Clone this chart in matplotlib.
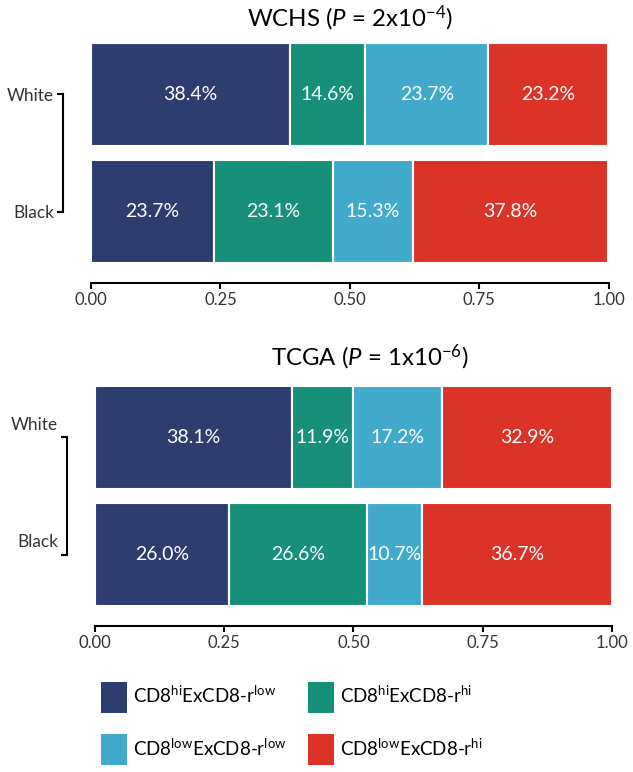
import matplotlib.pyplot as plt
from matplotlib.patches import Patch
from matplotlib.transforms import ScaledTranslation

plt.rcParams['font.family'] = ['Lato', 'DejaVu Sans']
plt.rcParams['mathtext.fontset'] = 'custom'
plt.rcParams['mathtext.rm'] = 'Lato'
plt.rcParams['mathtext.it'] = 'Lato:italic'

# data
groups = ['White', 'Black']
categories = [r'CD8$^{\mathrm{hi}}$ExCD8-r$^{\mathrm{low}}$',
              r'CD8$^{\mathrm{hi}}$ExCD8-r$^{\mathrm{hi}}$',
              r'CD8$^{\mathrm{low}}$ExCD8-r$^{\mathrm{low}}$',
              r'CD8$^{\mathrm{low}}$ExCD8-r$^{\mathrm{hi}}$']
colors = ['#2E3D70', '#17907A', '#41AACB', '#DB3328']

wchs_white = [38.4, 14.6, 23.7, 23.2]
wchs_black = [23.7, 23.1, 15.3, 37.8]
tcga_white = [38.1, 11.9, 17.2, 32.9]
tcga_black = [26.0, 26.6, 10.7, 36.7]

wchs_title = r'WCHS ($P$ = 2x10$^{\mathrm{-4}}$)'
tcga_title = r'TCGA ($P$ = 1x10$^{\mathrm{-6}}$)'
xticks = [0.0, 0.25, 0.5, 0.75, 1.0]


def draw_panel(ax, white, black, title, title_x, title_pad):
    ypos = [1, 0]
    for y, vals in zip(ypos, [white, black]):
        left = 0
        for v, c in zip(vals, colors):
            w = v / 100
            ax.barh(y, w, left=left, height=0.88, color=c,
                    edgecolor='white', linewidth=1.5)
            ax.text(left + w / 2, y, f'{v:.1f}%', ha='center', va='center',
                    color='white', fontsize=14)
            left += w
    ax.set_xlim(0, 1)
    ax.set_ylim(-0.44, 1.44)
    for s in ['top', 'right']:
        ax.spines[s].set_visible(False)
    # offsets are in points (28 px / 20 px at 100 dpi)
    ax.spines['left'].set_position(('outward', 20))
    ax.spines['bottom'].set_position(('outward', 14.4))
    ax.spines['left'].set_bounds(0, 1)
    ax.spines['bottom'].set_bounds(0, 1)
    ax.spines['left'].set_linewidth(1.5)
    ax.spines['bottom'].set_linewidth(1.5)
    ax.tick_params(width=1.5, length=4.5, pad=2, labelcolor='#333333')
    ax.tick_params(axis='y', labelsize=12.4)
    ax.tick_params(axis='x', labelsize=12)
    ax.set_yticks(ypos)
    ax.set_yticklabels(groups)
    ax.set_xticks(xticks)
    ax.set_xticklabels(['0.00', '0.25', '0.50', '0.75', '1.00'])
    ax.set_title(title, fontsize=17.3, x=title_x, pad=title_pad)


fig = plt.figure(figsize=(6.33, 7.72), dpi=100)
ax1 = fig.add_axes([0.1438, 0.6593, 0.818, 0.285])
ax2 = fig.add_axes([0.150, 0.215, 0.8167, 0.285])

draw_panel(ax1, wchs_white, wchs_black, wchs_title, 0.5, 12)
draw_panel(ax2, tcga_white, tcga_black, tcga_title, 0.532, 15)

# labels in the lower panel sit a bit above the bracket ends
for lab in ax2.get_yticklabels():
    lab.set_transform(lab.get_transform() + ScaledTranslation(0, 10 / 72, fig.dpi_scale_trans))

# legend filled column-wise, so reorder to get row-wise layout
order = [0, 2, 1, 3]
handles = [Patch(facecolor=colors[i], edgecolor='none') for i in order]
labels = [categories[i] for i in order]
fig.legend(handles, labels, loc='upper left', bbox_to_anchor=(0.159, 0.117),
           ncol=2, frameon=False, fontsize=13.5, handlelength=1.4, handleheight=2.17,
           handletextpad=0.3, columnspacing=1.15, labelspacing=1.15,
           borderpad=0, borderaxespad=0)

fig.savefig('out.png', dpi=100)
